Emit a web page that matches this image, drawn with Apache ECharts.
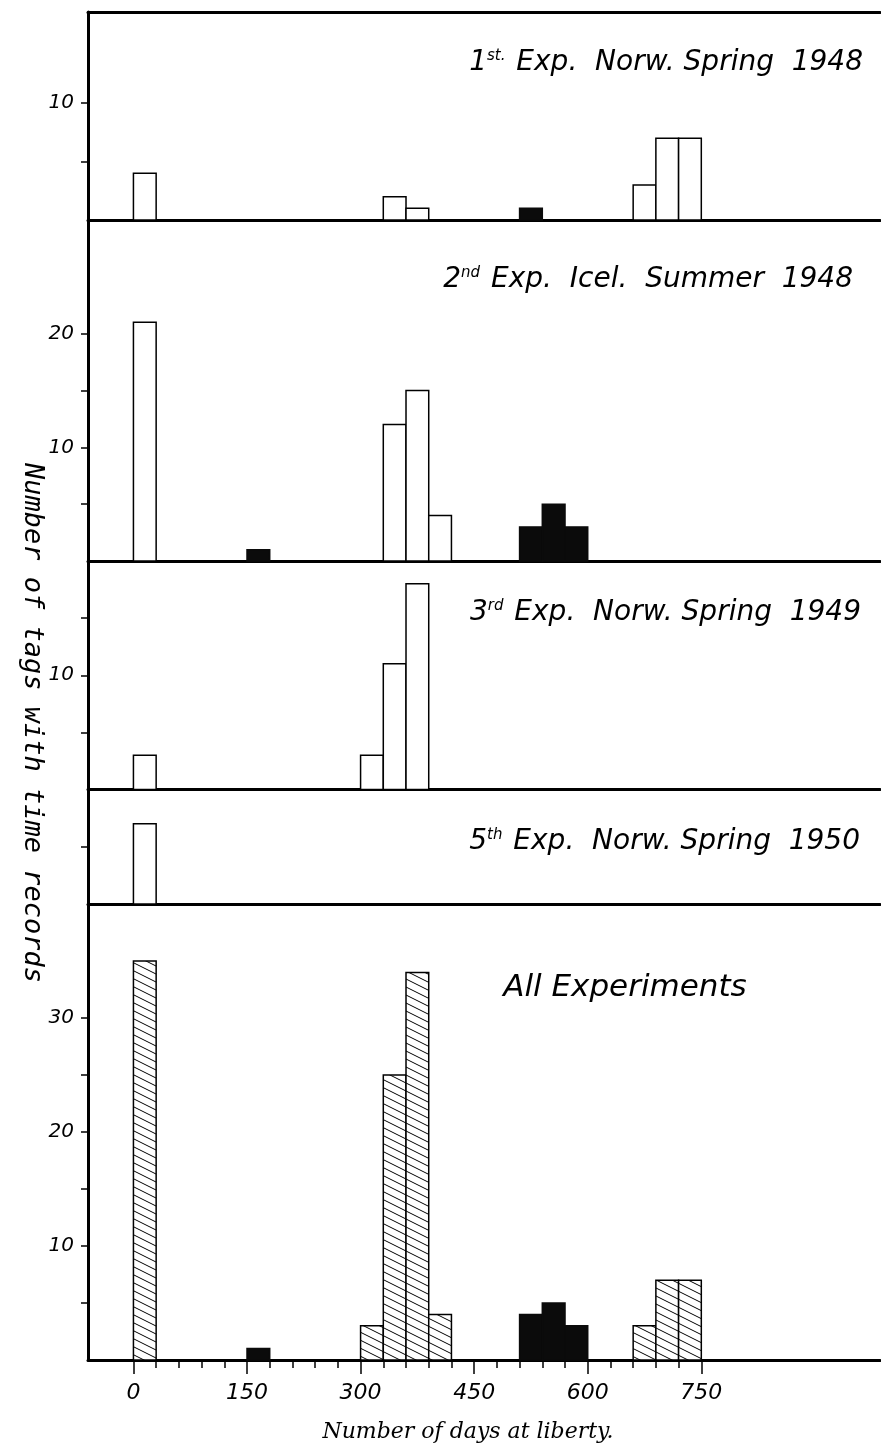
<!DOCTYPE html>
<html>
<head>
<meta charset="utf-8">
<script src="https://cdn.jsdelivr.net/npm/echarts@6/dist/echarts.min.js"></script>
<style>
html, body { margin: 0; padding: 0; background: #ffffff; }
#chart { width: 881px; height: 1445px; }
</style>
</head>
<body>
<div id="chart"></div>
<script>
// ---------------- DATA ----------------
const BIN_DAYS = 30;

// 1st Exp. Norw. Spring 1948
const p1OpenStart  = [0, 330, 360, 660, 690, 720];
const p1OpenCount  = [4, 2, 1, 3, 7, 7];
const p1SolidStart = [510];
const p1SolidCount = [1];

// 2nd Exp. Icel. Summer 1948
const p2OpenStart  = [0, 330, 360, 390];
const p2OpenCount  = [21, 12, 15, 4];
const p2SolidStart = [150, 510, 540, 570];
const p2SolidCount = [1, 3, 5, 3];

// 3rd Exp. Norw. Spring 1949
const p3OpenStart  = [0, 300, 330, 360];
const p3OpenCount  = [3, 3, 11, 18];

// 5th Exp. Norw. Spring 1950
const p5OpenStart  = [0];
const p5OpenCount  = [7];

// All Experiments
const allHatchStart = [0, 300, 330, 360, 390, 660, 690, 720];
const allHatchCount = [35, 3, 25, 34, 4, 3, 7, 7];
const allSolidStart = [150, 510, 540, 570];
const allSolidCount = [1, 4, 5, 3];

// Tick labels
const xLabelValues = [0, 150, 300, 450, 600, 750];
const xTickValues  = [0, 30, 60, 90, 120, 150, 180, 210, 240, 270, 300, 330, 360, 390, 420,
                      450, 480, 510, 540, 570, 600, 630, 660, 690, 720, 750];
const yLabelValues = [[10], [10, 20], [10], [], [10, 20, 30]];
const yTickValues  = [[5, 10], [5, 10, 15, 20], [5, 10, 15], [5], [5, 10, 15, 20, 25, 30]];
const yMaxValues   = [17.8, 30, 20, 10, 40];

const xAxisTitle = 'Number of days at liberty.';
const yAxisTitle = 'Number of tags with time records';

// ---------------- LAYOUT ----------------
const X_MIN = -60, X_MAX = 986;
const gridBoxes = [
  { top: 12,    height: 208 },
  { top: 220,   height: 341 },
  { top: 561,   height: 228.5 },
  { top: 789.5, height: 114.5 },
  { top: 904,   height: 456 }
];
const GRID_LEFT = 88, GRID_WIDTH = 792;

// hatch pattern
function makeHatch() {
  const c = document.createElement('canvas');
  c.width = 16; c.height = 8;
  const g = c.getContext('2d');
  g.fillStyle = '#ffffff';
  g.fillRect(0, 0, 16, 8);
  g.strokeStyle = '#000000';
  g.lineWidth = 1;
  for (const off of [-8, 0, 8]) {
    g.beginPath();
    g.moveTo(-2, off - 1);
    g.lineTo(18, off + 9);
    g.stroke();
  }
  return c;
}
const hatchPattern = { image: makeHatch(), repeat: 'repeat' };

const barStyles = {
  open:  { fill: '#ffffff', stroke: '#000000', lineWidth: 1.5 },
  solid: { fill: '#0b0b0b', stroke: '#0b0b0b', lineWidth: 1.5 },
  hatch: { fill: hatchPattern, stroke: '#000000', lineWidth: 1.5 }
};

function zip(a, b) { return a.map((v, i) => [v, b[i]]); }

function binSeries(panel, kind, starts, counts) {
  return {
    type: 'custom',
    xAxisIndex: panel,
    yAxisIndex: panel,
    data: zip(starts, counts),
    encode: { x: 0, y: 1 },
    clip: false,
    renderItem: function (params, api) {
      const start = api.value(0);
      const count = api.value(1);
      const tl = api.coord([start, count]);
      const br = api.coord([start + BIN_DAYS, 0]);
      return {
        type: 'rect',
        shape: { x: tl[0], y: tl[1], width: br[0] - tl[0], height: br[1] - tl[1] },
        style: barStyles[kind]
      };
    }
  };
}

const LINE = { color: '#000000', width: 3 };
const labelFont = { fontFamily: 'DejaVu Sans', fontStyle: 'italic', color: '#000000' };

const grids = gridBoxes.map(b => ({ left: GRID_LEFT, width: GRID_WIDTH, top: b.top, height: b.height }));

const xAxes = gridBoxes.map((b, i) => {
  const last = i === gridBoxes.length - 1;
  return {
    gridIndex: i, type: 'value', min: X_MIN, max: X_MAX, position: 'bottom',
    axisLine: { show: true, onZero: false, lineStyle: LINE },
    axisTick: last ? { show: true, customValues: xTickValues, length: 8, lineStyle: { color: '#000', width: 1.5 } } : { show: false },
    axisLabel: last ? Object.assign({ show: true, customValues: xLabelValues, fontSize: 22, margin: 22 }, labelFont) : { show: false },
    splitLine: { show: false }
  };
});
// top frame line of first panel
xAxes.push({
  gridIndex: 0, type: 'value', min: X_MIN, max: X_MAX, position: 'top',
  axisLine: { show: true, onZero: false, lineStyle: LINE },
  axisTick: { show: false }, axisLabel: { show: false }, splitLine: { show: false }
});
// longer ticks at labelled days
xAxes.push({
  gridIndex: 4, type: 'value', min: X_MIN, max: X_MAX, position: 'bottom',
  axisLine: { show: false, onZero: false },
  axisTick: { show: true, customValues: xLabelValues, length: 14, lineStyle: { color: '#000', width: 1.5 } },
  axisLabel: { show: false }, splitLine: { show: false }
});

const yAxes = gridBoxes.map((b, i) => ({
  gridIndex: i, type: 'value', min: 0, max: yMaxValues[i],
  axisLine: { show: true, onZero: false, lineStyle: LINE },
  axisTick: { show: true, inside: false, customValues: yTickValues[i], length: 7, lineStyle: { color: '#000', width: 1.5 } },
  axisLabel: yLabelValues[i].length
    ? Object.assign({ show: true, customValues: yLabelValues[i], fontSize: 20, margin: 14 }, labelFont)
    : { show: false },
  splitLine: { show: false }
}));

const series = [
  binSeries(0, 'open', p1OpenStart, p1OpenCount),
  binSeries(0, 'solid', p1SolidStart, p1SolidCount),
  binSeries(1, 'open', p2OpenStart, p2OpenCount),
  binSeries(1, 'solid', p2SolidStart, p2SolidCount),
  binSeries(2, 'open', p3OpenStart, p3OpenCount),
  binSeries(3, 'open', p5OpenStart, p5OpenCount),
  binSeries(4, 'hatch', allHatchStart, allHatchCount),
  binSeries(4, 'solid', allSolidStart, allSolidCount)
];

function titleText(x, y, text, align, size) {
  return {
    type: 'text', x: x, y: y, z: 10,
    style: {
      text: text,
      fontFamily: 'DejaVu Sans', fontStyle: 'italic', fontSize: size || 28,
      fill: '#000000',
      textAlign: align, textVerticalAlign: 'middle',
      align: align, verticalAlign: 'middle',
      rich: {
        sup: { fontFamily: 'DejaVu Sans', fontStyle: 'italic', fontSize: 15, verticalAlign: 'top', padding: [0, 2, 14, 0] }
      }
    }
  };
}

const graphics = [
  titleText(863, 63,  '1{sup|st.} Exp.  Norw. Spring  1948', 'right'),
  titleText(853, 280, '2{sup|nd} Exp.  Icel.  Summer  1948', 'right'),
  titleText(861, 613, '3{sup|rd} Exp.  Norw. Spring  1949', 'right'),
  titleText(860, 842, '5{sup|th} Exp.  Norw. Spring  1950', 'right'),
  titleText(625, 988, 'All Experiments', 'center', 31),
  {
    type: 'text', x: 32, y: 723, rotation: -Math.PI / 2, z: 10,
    style: {
      text: yAxisTitle, fontFamily: 'DejaVu Sans Mono', fontStyle: 'italic', fontSize: 27, fill: '#000',
      textAlign: 'center', textVerticalAlign: 'middle', align: 'center', verticalAlign: 'middle'
    }
  },
  {
    type: 'text', x: 468, y: 1432, z: 10,
    style: {
      text: xAxisTitle, fontFamily: 'DejaVu Serif', fontStyle: 'italic', fontSize: 22, fill: '#000',
      textAlign: 'center', textVerticalAlign: 'middle', align: 'center', verticalAlign: 'middle'
    }
  }
];

const chart = echarts.init(document.getElementById('chart'), null, { renderer: 'canvas' });
chart.setOption({
  backgroundColor: '#ffffff',
  animation: false,
  grid: grids,
  xAxis: xAxes,
  yAxis: yAxes,
  series: series,
  graphic: graphics
});
</script>
</body>
</html>
